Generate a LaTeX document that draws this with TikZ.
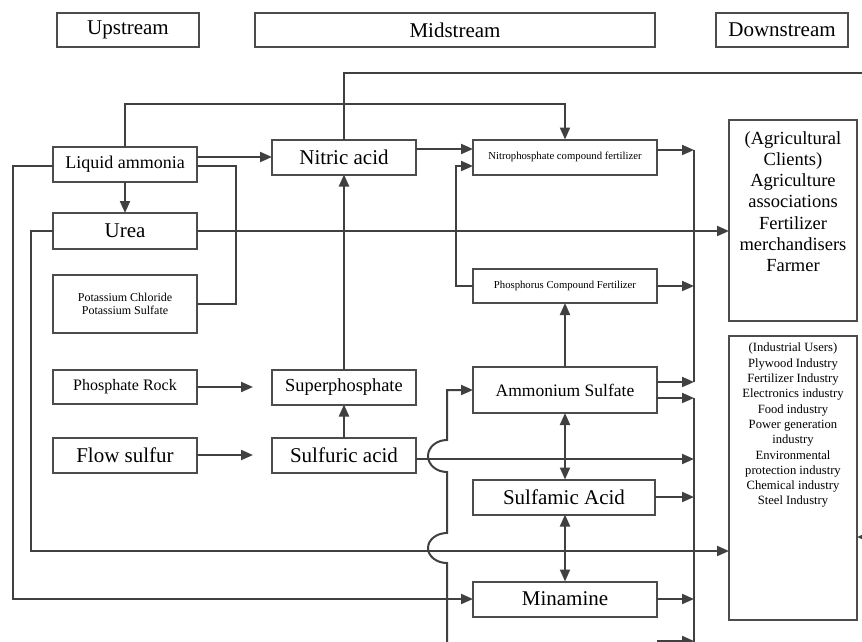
\documentclass[tikz,border=0pt]{standalone}
\usepackage{fontspec}
\setmainfont{Liberation Serif}
\usetikzlibrary{arrows.meta}
\newcommand\fsz[2]{\fontsize{#1}{#2}\selectfont}
\tikzset{
  box/.style={draw=black!70, line width=2pt, inner sep=0pt, outer sep=0pt, align=center, text=black},
  conn/.style={draw=black!75, line width=2pt},
  arr/.style={conn, -{Triangle[length=12pt,width=10pt]}},
  darr/.style={conn, {Triangle[length=12pt,width=10pt]}-{Triangle[length=12pt,width=10pt]}},
  plain/.style={inner sep=0pt, align=center, text=black},
}
\begin{document}
\begin{tikzpicture}[x=1pt, y=-1pt]
\fill[white] (0,0) rectangle (862,642);
\useasboundingbox (0,0) rectangle (862,642);

% column headers
\node[box, minimum width=142, minimum height=34, font=\fsz{21}{24}] (up) at (128,30) {Upstream};
\node[box, minimum width=400, minimum height=34, font=\fsz{21}{24}] (mid) at (455,30) {Midstream};
\node[box, minimum width=132, minimum height=34, font=\fsz{21}{24}] (down) at (782,30) {Downstream};

% upstream raw materials
\node[box, minimum width=144, minimum height=35, font=\fsz{18}{21}] (la) at (125,164.5) {Liquid ammonia};
\node[box, minimum width=144, minimum height=36, font=\fsz{21}{24}] (urea) at (125,231) {Urea};
\node[box, minimum width=144, minimum height=58, font=\fsz{12}{13.5}] (pot) at (125,304) {Potassium Chloride\\Potassium Sulfate};
\node[box, minimum width=144, minimum height=34, font=\fsz{16}{19}] (rock) at (125,387) {Phosphate Rock};
\node[box, minimum width=144, minimum height=35, font=\fsz{21}{24}] (fsul) at (125,455) {Flow sulfur};

% midstream intermediates
\node[box, minimum width=144, minimum height=35, font=\fsz{21}{24}] (nitric) at (344,157) {Nitric acid};
\node[box, minimum width=144, minimum height=35, font=\fsz{18.4}{21}] (super) at (344,387) {Superphosphate};
\node[box, minimum width=144, minimum height=35, font=\fsz{21}{24}] (sulf) at (344,455) {Sulfuric acid};

% midstream products
\node[box, minimum width=184, minimum height=35, font=\fsz{10.7}{12}] (nitro) at (565,157) {Nitrophosphate compound fertilizer};
\node[box, minimum width=184, minimum height=34, font=\fsz{10.7}{12}] (phos) at (565,286) {Phosphorus Compound Fertilizer};
\node[box, minimum width=184, minimum height=46, font=\fsz{17.5}{20}] (amsul) at (565,390) {Ammonium Sulfate};
\node[box, minimum width=182, minimum height=35, font=\fsz{21}{24}] (sulfam) at (564,497) {Sulfamic Acid};
\node[box, minimum width=184, minimum height=35, font=\fsz{21}{24}] (mina) at (565,599) {Minamine};

% downstream clients
\node[box, minimum width=128, minimum height=201] (agri) at (793,220.5) {};
\node[plain, anchor=north, font=\fsz{18.5}{21.3}] (agritext) at (793,131)
  {(Agricultural\\Clients)\\Agriculture\\associations\\Fertilizer\\merchandisers\\Farmer};
\node[box, minimum width=128, minimum height=284] (ind) at (793,478) {};
\node[plain, anchor=north, font=\fsz{12.6}{15.3}] (indtext) at (793,343)
  {(Industrial Users)\\Plywood Industry\\Fertilizer Industry\\Electronics industry\\Food industry\\Power generation\\industry\\Environmental\\protection industry\\Chemical industry\\Steel Industry};

% collecting buses in front of the downstream boxes
\coordinate (b1top) at (694,150);
\coordinate (b1bot) at (694,382);
\coordinate (b2top) at (694,398);
\coordinate (b2bot) at (694,660);
\draw[conn] (b1top) -- (b1bot);
\draw[conn] (b2top) -- (b2bot);

% free ends running off the sheet
\coordinate (topout) at (875,73);
\coordinate (rightin) at (875,537);
\coordinate (lowin) at (657,641);
\coordinate (jumpin) at (447,660);

% liquid ammonia connections
\draw[arr] (la.north) -- ++(0,-43) -| (nitro.north);
\draw[arr] (la.east |- nitric.west) -- (nitric.west);
\draw[conn] ([yshift=-1.5pt]la.east) -- ++(39,0) |- (pot.east);
\draw[arr] (la.south) -- (urea.north);
\draw[arr] ([yshift=-1.5pt]la.west) -- ++(-40,0) |- (mina.west);

% urea connections
\draw[arr] (urea.east) -- (urea.east -| agri.west);
\draw[arr] (urea.west) -- ++(-22,0) |- ([yshift=-73pt]ind.west);

% nitric acid
\draw[conn] (nitric.north) |- (topout);
\draw[arr] ([yshift=8pt]nitric.east) -- ([yshift=8pt]nitro.west);
\draw[arr] (phos.west) -- ++(-17,0) |- ([yshift=-9pt]nitro.west);

% phosphate and sulfur chain
\draw[arr] (rock.east) -- ([xshift=-19pt]super.west);
\draw[arr] (fsul.east) -- ([xshift=-19pt]sulf.west);
\draw[arr] (sulf.north) -- (super.south);
\draw[arr] (super.north) -- (nitric.south);
\draw[arr] ([yshift=-4pt]sulf.east) -- ([yshift=-4pt]sulf.east -| b2top);

% ammonium sulfate family
\draw[arr] (amsul.north) -- (phos.south);
\draw[darr] (amsul.south) -- (amsul.south |- sulfam.north);
\draw[darr] (amsul.south |- sulfam.south) -- (mina.north);

% line from below with jumps over the crossing lines
\draw[arr] (jumpin) -- (447,563)
  arc[start angle=90, end angle=270, x radius=19, y radius=15] -- (447,472)
  arc[start angle=90, end angle=270, x radius=19, y radius=16] |- (amsul.west);

% products into the buses
\draw[arr] ([yshift=7pt]nitro.east) -- (b1top);
\draw[arr] (phos.east) -- (phos.east -| b1top);
\draw[arr] ([yshift=8pt]amsul.east) -- (b1bot);
\draw[arr] ([yshift=-8pt]amsul.east) -- (b2top);
\draw[arr] (sulfam.east) -- (sulfam.east -| b2top);
\draw[arr] (mina.east) -- (mina.east -| b2top);
\draw[arr] (lowin) -- (lowin -| b2top);

% input arriving from the right
\draw[arr] (rightin) -- (rightin -| ind.east);
\end{tikzpicture}
\end{document}
